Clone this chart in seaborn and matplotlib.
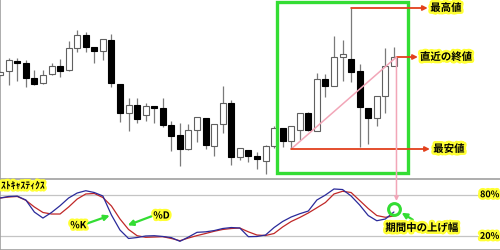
import numpy as np
import pandas as pd
import matplotlib
matplotlib.use("Agg")
import matplotlib.pyplot as plt
import matplotlib.patheffects as pe
import seaborn as sns

sns.set_style("white")
plt.rcParams['font.family'] = ['Noto Sans CJK JP', 'DejaVu Sans']

# ---- data ----
idx = list(range(1, 48))
opens = [104, 108, 118, 116, 101, 96, 105, 113, 109, 131, 144, 132, 128, 139, 95, 66, 74, 64, 73, 71,
         54, 44, 30, 49, 61, 33, 55, 76, 22, 29, 23, 18, 33, 51, 38, 49, 66, 48, 100, 93,
         122, 120, 108, 71, 61, 83, 113]
highs = [108, 121, 121, 119, 109, 109, 116, 120, 138, 149, 147, 132, 140, 145, 95, 81, 81, 76, 73, 81,
         58, 56, 55, 62, 61, 55, 93, 79, 31, 29, 27, 34, 53, 51, 53, 66, 67, 106, 105, 143,
         139, 171, 115, 71, 83, 131, 132]
lows = [103, 94, 98, 92, 94, 95, 104, 102, 108, 127, 127, 116, 119, 92, 57, 48, 56, 58, 56, 52,
        28, 13, 29, 37, 30, 23, 46, 14, 19, 17, 10, 5, 31, 32, 30, 39, 48, 48, 82, 93,
        98, 97, 32, 35, 53, 66, 113]
closes = [107, 119, 116, 101, 95, 104, 113, 108, 131, 144, 132, 128, 140, 96, 66, 74, 60, 73, 71, 54,
          43, 30, 49, 62, 34, 55, 76, 22, 31, 23, 20, 33, 51, 38, 53, 66, 49, 100, 93, 122,
          125, 107, 72, 61, 83, 113, 122]
pct_k = [75.3, 77.5, 78, 72.4, 55, 46.4, 54.4, 64.2, 75.3, 82.5, 85.8, 83.2, 78.2, 50.8, 29.1, 16.9,
         18.3, 20.5, 20.9, 19.8, 18.2, 12.8, 19, 25.8, 26.5, 28.3, 31.3, 32.7, 32, 19.5, 19.8, 21.9,
         32.7, 41.4, 47.9, 52.6, 56.5, 72.4, 79.6, 88.3, 87.5, 78.2, 65.2, 50, 42.5, 45, 55.1]
pct_d = [75.3, 76.7, 77.5, 72, 62.3, 54.4, 52.2, 52.2, 62.3, 73.8, 81.1, 81.8, 76, 63.8, 45, 29.9,
         20.9, 18.6, 19, 19.5, 16.9, 13.7, 17.6, 21.1, 24.1, 27.3, 29.9, 31.3, 32, 26.5, 21.9, 21.2,
         24.1, 33.5, 41.4, 47.2, 53.7, 61.2, 68.8, 81.1, 85, 83.2, 71.7, 60.1, 50, 47.5, 49.3]
window_start = 34   # first candle inside the highlighted period
levels = [80, 20]
level_labels = ["80%", "20%"]

df = pd.DataFrame(dict(i=idx, o=opens, h=highs, l=lows, c=closes, k=pct_k, d=pct_d))

# ---- figure ----
W, H = 500, 251
fig = plt.figure(figsize=(W / 100, H / 100), dpi=100)
top_h = 180
ax = fig.add_axes([0, (H - top_h) / H, 1, top_h / H])
ax2 = fig.add_axes([0, 0, 1, (H - top_h) / H])

step = 8.56
x0 = 0.15
xl = (1 - x0 / step, 1 + (W - x0) / step)
for a in (ax, ax2):
    a.set_xlim(*xl)
    a.set_xticks([]); a.set_yticks([])
    a.set_facecolor("white")
ax.set_ylim(0, 180)
ax2.set_ylim(0.3, 102.7)

border = "#a0a0a0"
for a in (ax, ax2):
    for s in a.spines.values():
        s.set_color(border); s.set_linewidth(1.2)
    a.spines['right'].set_visible(False)
ax.spines['bottom'].set_visible(False)

# ---- candlesticks ----
up = df[df.c >= df.o]
dn = df[df.c < df.o]
ax.vlines(df.i, df.l, df.h, color="#7a7a7a", lw=0.9, zorder=2)
bw = 0.7
ax.bar(up.i, up.c - up.o, bottom=up.o, width=bw, color="white", edgecolor="#606060", lw=0.8, zorder=3)
ax.bar(dn.i, dn.o - dn.c, bottom=dn.c, width=bw, color="black", edgecolor="black", lw=0.8, zorder=3)

# ---- annotations on price panel ----
win = df[df.i >= window_start]
hi_row = win.loc[win.h.idxmax()]
lo_row = win.loc[win.l.idxmin()]
last = df.iloc[-1]

green = "#33dd33"
red = "#e2401c"
pink = "#f2a6b8"
ax.add_patch(plt.Rectangle((33.35, 6), 15.3, 171, fill=False, ec=green, lw=2.4, zorder=5))

txt_fx = [pe.withStroke(linewidth=3.6, foreground="#ffff33")]
tkw = dict(fontsize=7.5, fontweight="bold", color="black", path_effects=txt_fx, va="center", zorder=8)

arrow_kw = dict(arrowstyle="-|>", color=red, lw=1.3, mutation_scale=7, shrinkA=0, shrinkB=0)
ax.annotate("", xy=(50.95, hi_row.h), xytext=(hi_row.i, hi_row.h), arrowprops=arrow_kw, zorder=6)
ax.text(51.25, hi_row.h, "最高値", **tkw)
ax.annotate("", xy=(49.8, last.c), xytext=(47.3, last.c), arrowprops=arrow_kw, zorder=6)
ax.text(50.05, last.c, "直近の終値", **tkw)
ax.annotate("", xy=(51.2, lo_row.l), xytext=(lo_row.i, lo_row.l), arrowprops=arrow_kw, zorder=6)
ax.text(51.6, lo_row.l, "最安値", **tkw)

ax.plot([lo_row.i, 47.3], [lo_row.l, last.c], color=pink, lw=1.1, zorder=4)

# ---- stochastics panel ----
for lv in levels:
    ax2.axhline(lv, xmin=0, xmax=478 / W, color="#c4c4c4", lw=0.9, zorder=1)
sns.lineplot(data=df, x="i", y="d", ax=ax2, color="#c02828", lw=0.9, zorder=3)
sns.lineplot(data=df, x="i", y="k", ax=ax2, color="#2a2a9a", lw=0.9, zorder=4)
ax2.set_xlabel(""); ax2.set_ylabel("")
ax2.set_xlim(*xl); ax2.set_ylim(0.3, 102.7)

lkw = dict(tkw); lkw.update(fontsize=6.5, ha="right")
for lv, lb in zip(levels, level_labels):
    ax2.text(59.3, lv, lb, **lkw)

skw = dict(tkw); skw.update(fontsize=7, ha="left")
ax2.text(1.1, 93, "ｽﾄｷｬｽﾃｨｸｽ", **skw)

gk = dict(arrowstyle="-|>", color=green, lw=1.6, mutation_scale=8, shrinkA=0, shrinkB=0)
ax2.text(9.2, 36, "%K", **dict(tkw, fontsize=7, ha="left"))
ax2.annotate("", xy=(13.8, 50), xytext=(10.8, 37), arrowprops=gk)
ax2.text(18.9, 50, "%D", **dict(tkw, fontsize=7, ha="left"))
ax2.annotate("", xy=(15.9, 36), xytext=(18.7, 49), arrowprops=gk)

ax2.plot([47.05], [60], marker="o", ms=8.5, mfc="none", mec=green, mew=2.2, zorder=6)
ax2.annotate("", xy=(47.9, 54), xytext=(49.2, 44), arrowprops=gk)
ax2.text(46.0, 32, "期間中の上げ幅", **dict(tkw, fontsize=7.5, ha="left"))

# pink vertical arrow from last close down into the stochastics panel
ax2.annotate("", xy=(47.3, 71), xycoords=ax2.transData,
             xytext=(47.3, last.c), textcoords=ax.transData,
             arrowprops=dict(arrowstyle="-|>", color=pink, lw=1.1, mutation_scale=6,
                             shrinkA=0, shrinkB=0), zorder=7, annotation_clip=False)

fig.savefig("out.png", dpi=100)
